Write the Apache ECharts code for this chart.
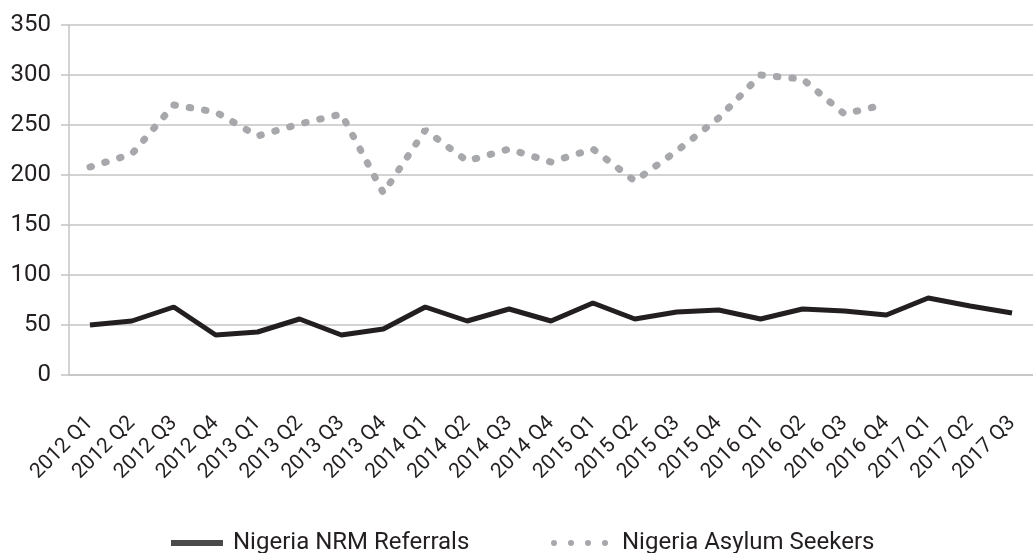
<!DOCTYPE html>
<html>
<head>
<meta charset="utf-8">
<script src="https://cdn.jsdelivr.net/npm/echarts@6/dist/echarts.min.js"></script>
<style>
  html, body { margin: 0; padding: 0; background: #fff; }
  #chart { width: 1033px; height: 553px; }
</style>
</head>
<body>
<div id="chart"></div>
<script>
  // quarters shown on the x axis
  var quarters = [
    '2012 Q1', '2012 Q2', '2012 Q3', '2012 Q4',
    '2013 Q1', '2013 Q2', '2013 Q3', '2013 Q4',
    '2014 Q1', '2014 Q2', '2014 Q3', '2014 Q4',
    '2015 Q1', '2015 Q2', '2015 Q3', '2015 Q4',
    '2016 Q1', '2016 Q2', '2016 Q3', '2016 Q4',
    '2017 Q1', '2017 Q2', '2017 Q3'
  ]
  // Nigeria NRM referrals
  var nrmReferrals = [50, 54, 68, 40, 43, 56, 40, 46, 68, 54, 66, 54,
    72, 56, 63, 65, 56, 66, 64, 60, 77, 69, 62]
  // Nigeria asylum seekers (no data after 2016 Q4)
  var asylumSeekers = [208, 221, 270, 263, 239, 251, 261, 182, 245, 214, 226, 213,
    226, 194, 224, 257, 300, 296, 261, 271, null, null, null]
  var yTicks = { min: 0, max: 350, step: 50 }

  var names = ['Nigeria NRM Referrals', 'Nigeria Asylum Seekers']
  var gridColor = '#c4c4c4'
  var textColor = '#231f20'
  var font = 'Roboto, "DejaVu Sans", sans-serif'

  var chart = echarts.init(document.getElementById('chart'))
  var option = {
    animation: false,
    grid: { left: 69, right: -9, top: 25, bottom: 178 },
    legend: [
      {
        data: [{ name: names[0], itemStyle: { color: '#4a4a4a' } }],
        left: 166,
        top: 526,
        icon: 'rect',
        itemWidth: 52,
        itemHeight: 6,
        textStyle: { color: textColor, fontSize: 24, fontFamily: font, padding: [0, 0, 0, 5] }
      },
      {
        data: [{ name: names[1], itemStyle: { color: '#a7a8ab' } }],
        left: 546,
        top: 526,
        icon: 'path://M0,3a3,3 0 1,0 6,0a3,3 0 1,0 -6,0z M17,3a3,3 0 1,0 6,0a3,3 0 1,0 -6,0z M34,3a3,3 0 1,0 6,0a3,3 0 1,0 -6,0z M51,3a3,3 0 1,0 6,0a3,3 0 1,0 -6,0z',
        itemWidth: 57,
        itemHeight: 6,
        textStyle: { color: textColor, fontSize: 24, fontFamily: font, padding: [0, 0, 0, 9] }
      }
    ],
    xAxis: {
      type: 'category',
      data: quarters,
      boundaryGap: true,
      axisLine: { lineStyle: { color: gridColor, width: 1.5 } },
      axisTick: {
        length: 11,
        lineStyle: { color: gridColor, width: 1.5 },
        interval: function (index) { return index > 0 }
      },
      axisLabel: {
        rotate: 45,
        interval: 0,
        margin: 45,
        color: textColor,
        fontSize: 21,
        fontFamily: font
      }
    },
    yAxis: {
      type: 'value',
      min: yTicks.min,
      max: yTicks.max,
      interval: yTicks.step,
      axisLine: { show: true, lineStyle: { color: gridColor, width: 1.5 } },
      axisTick: { show: true, length: 8, lineStyle: { color: gridColor, width: 1.5 } },
      splitLine: { lineStyle: { color: gridColor, width: 1.5 } },
      axisLabel: { margin: 18, color: textColor, fontSize: 24, fontFamily: font }
    },
    series: [
      {
        name: names[0],
        type: 'line',
        data: nrmReferrals,
        showSymbol: false,
        z: 3,
        lineStyle: { color: '#231f20', width: 5 }
      },
      {
        name: names[1],
        type: 'line',
        data: asylumSeekers,
        showSymbol: false,
        z: 2,
        lineStyle: { color: '#a7a8ab', width: 7, type: [1.5, 14], cap: 'round' }
      }
    ]
  }
  chart.setOption(option)
</script>
</body>
</html>
